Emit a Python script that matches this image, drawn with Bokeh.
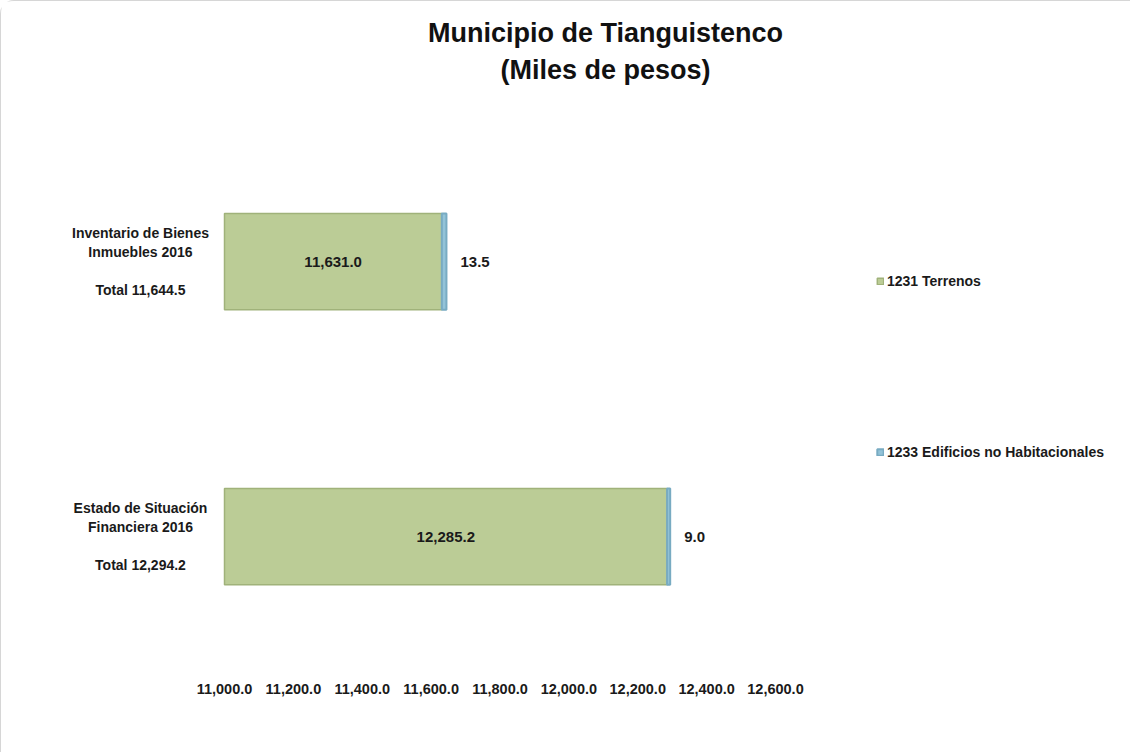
from bokeh.plotting import figure
from bokeh.models import (ColumnDataSource, Range1d, FixedTicker, NumeralTickFormatter,
                          Label, Legend, LegendItem)
from bokeh.embed import file_html
from bokeh.resources import INLINE

# ---- data ----
categories = ["Inventario de Bienes\nInmuebles 2016", "Estado de Situación\nFinanciera 2016"]
terrenos = [11631.0, 12285.2]
edificios = [13.5, 9.0]
series_names = ["1231 Terrenos", "1233 Edificios no Habitacionales"]
x_ticks = [11000, 11200, 11400, 11600, 11800, 12000, 12200, 12400, 12600]
title_lines = ["Municipio de Tianguistenco", "(Miles de pesos)"]

x_start = x_ticks[0]
y_pos = [1.5, 0.5]
totals = [t + e for t, e in zip(terrenos, edificios)]

# ---- layout (pixels) ----
W, H = 1130, 752
FRAME_H = 673
PX_PER_UNIT = 551 / 1600.0        # horizontal scale
PX_PER_ROW = 275.0                # vertical scale
AXIS_LEFT_PX = 223                # where the value axis starts inside the frame
view_x0 = x_start - AXIS_LEFT_PX / PX_PER_UNIT
view_x1 = view_x0 + W / PX_PER_UNIT
view_y0 = 0.5 - 138 / PX_PER_ROW
view_y1 = view_y0 + FRAME_H / PX_PER_ROW

FONT = "Liberation Sans"
GREEN = "#bbcc96"
GREEN_EDGE = "#a0b27a"
BLUE = "#93c3d8"
BLUE_EDGE = "#78abc2"
TXT = "#1a1a1a"

p = figure(width=W, height=H,
           x_range=Range1d(view_x0, view_x1), y_range=Range1d(view_y0, view_y1),
           min_border_left=0, min_border_right=0,
           min_border_top=0, min_border_bottom=H - FRAME_H,
           output_backend="svg", toolbar_location=None,
           background_fill_color="white", border_fill_color="white",
           styles={"border-top": "1px solid #d6d6d6", "border-left": "1px solid #d6d6d6",
                   "border-top-left-radius": "14px"})
p.outline_line_color = None
p.grid.visible = False
p.yaxis.visible = False

src = ColumnDataSource(dict(
    y=y_pos,
    left=[x_start] * len(terrenos),
    terr=terrenos,
    edif_right=[t + e for t, e in zip(terrenos, edificios)],
    mid=[(x_start + t) / 2 for t in terrenos],
    terr_lbl=[f"{t:,.1f}" for t in terrenos],
    edif_lbl=[f"{e:,.1f}" for e in edificios],
))

r1 = p.hbar(y="y", left="left", right="terr", height=0.35, source=src,
            fill_color=GREEN, line_color=GREEN_EDGE, line_width=1.5)
r2 = p.hbar(y="y", left="terr", right="edif_right", height=0.35, source=src,
            fill_color=BLUE, line_color=BLUE_EDGE, line_width=2)

p.text(x="mid", y="y", text="terr_lbl", source=src, text_align="center",
       text_baseline="middle", text_font_size="15px", text_font_style="bold",
       text_font={"value": FONT}, text_color=TXT)
p.text(x="edif_right", y="y", text="edif_lbl", source=src, x_offset=14,
       text_align="left", text_baseline="middle", text_font_size="15px",
       text_font_style="bold", text_font={"value": FONT}, text_color=TXT)

# category labels to the left of the bars
for cat, tot, yy in zip(categories, totals, y_pos):
    p.add_layout(Label(x=x_start, y=yy, x_offset=-84, text=f"{cat}\n\nTotal {tot:,.1f}",
                       text_align="center", text_baseline="middle",
                       text_font=FONT, text_font_size="14px", text_font_style="bold",
                       text_line_height=1.18, text_color=TXT))

# title
for i, line in enumerate(title_lines):
    p.add_layout(Label(x=x_start, y=2, x_offset=381, y_offset=91 - 37 * i, text=line,
                       text_align="center", text_baseline="middle",
                       text_font=FONT, text_font_size="27px", text_font_style="bold",
                       text_color="#111111"))

# x axis
p.xaxis.ticker = FixedTicker(ticks=x_ticks)
p.xaxis.formatter = NumeralTickFormatter(format="0,0.0")
p.xaxis.axis_line_color = None
p.xaxis.major_tick_line_color = None
p.xaxis.minor_tick_line_color = None
p.xaxis.major_tick_out = 0
p.xaxis.major_label_standoff = 9
p.xaxis.major_label_text_font = FONT
p.xaxis.major_label_text_font_size = "14.5px"
p.xaxis.major_label_text_font_style = "bold"
p.xaxis.major_label_text_color = TXT

legend = Legend(items=[LegendItem(label=series_names[0], renderers=[r1]),
                       LegendItem(label=series_names[1], renderers=[r2])],
                location=(875, 214), orientation="vertical",
                glyph_width=8, glyph_height=8, label_height=14, spacing=155,
                label_standoff=3, padding=0, margin=0,
                border_line_alpha=0, background_fill_alpha=0,
                label_text_font=FONT, label_text_font_size="14px",
                label_text_font_style="bold", label_text_color=TXT)
p.add_layout(legend, "center")

open("out.html", "w").write(file_html(p, INLINE))
